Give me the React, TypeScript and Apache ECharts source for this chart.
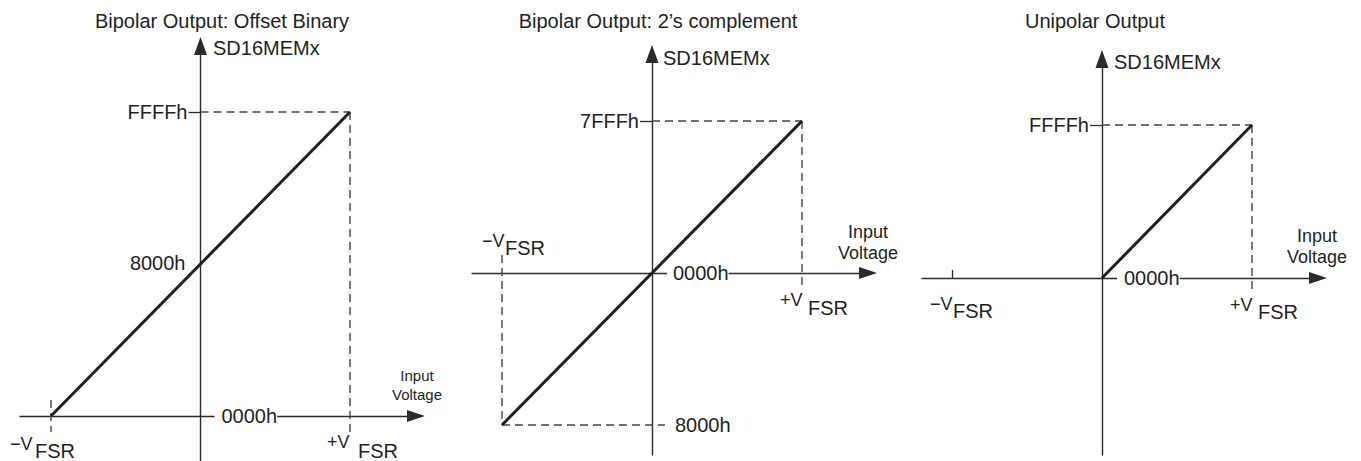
import React, { useEffect, useRef } from "react";
import * as echarts from "echarts";

// ---------------- data ----------------
// Input voltage, in units of the full-scale range V_FSR
const VFSR_NEG = -1;
const VFSR_POS = 1;
const V_ZERO = 0;

// Output codes (SD16MEMx)
const OB_MIN = 0x0000; // 0000h offset binary
const OB_MID = 0x8000; // 8000h offset binary
const OB_MAX = 0xffff; // FFFFh offset binary
const TC_MIN = -0x8000; // 8000h two's complement
const TC_ZERO = 0x0000; // 0000h
const TC_MAX = 0x7fff; // 7FFFh two's complement
const UNI_MIN = 0x0000; // 0000h unipolar
const UNI_MAX = 0xffff; // FFFFh unipolar

const panelTitles = [
  "Bipolar Output: Offset Binary",
  "Bipolar Output: 2\u2019s complement",
  "Unipolar Output",
];
const yAxisTitle = "SD16MEMx";
const xAxisTitle = "Input\nVoltage";

// transfer functions
const offsetBinaryLine = [
  [VFSR_NEG, OB_MIN],
  [VFSR_POS, OB_MAX],
];
const twosComplementLine = [
  [VFSR_NEG, TC_MIN],
  [VFSR_POS, TC_MAX],
];
const unipolarLine = [
  [V_ZERO, UNI_MIN],
  [VFSR_POS, UNI_MAX],
];

// dashed guides: [x1, y1, x2, y2]
const offsetBinaryGuides = [
  [V_ZERO, OB_MAX, VFSR_POS, OB_MAX],
  [VFSR_POS, OB_MAX, VFSR_POS, OB_MIN],
  [VFSR_NEG, OB_MIN, VFSR_NEG, OB_MIN],
];
const twosComplementGuides = [
  [V_ZERO, TC_MAX, VFSR_POS, TC_MAX],
  [VFSR_POS, TC_MAX, VFSR_POS, TC_ZERO],
  [VFSR_NEG, TC_ZERO, VFSR_NEG, TC_MIN],
  [VFSR_NEG, TC_MIN, V_ZERO, TC_MIN],
];
const unipolarGuides = [
  [V_ZERO, UNI_MAX, VFSR_POS, UNI_MAX],
  [VFSR_POS, UNI_MAX, VFSR_POS, UNI_MIN],
];

// annotation anchors and texts
const offsetBinaryLabelAt = [
  [V_ZERO, OB_MAX],
  [V_ZERO, OB_MID],
  [V_ZERO, OB_MIN],
  [VFSR_NEG, OB_MIN],
  [VFSR_NEG, OB_MIN],
  [VFSR_POS, OB_MIN],
  [VFSR_POS, OB_MIN],
];
const offsetBinaryLabelText = ["FFFFh", "8000h", "0000h", "\u2212V", "FSR", "+V", "FSR"];

const twosComplementLabelAt = [
  [V_ZERO, TC_MAX],
  [V_ZERO, TC_ZERO],
  [V_ZERO, TC_MIN],
  [VFSR_NEG, TC_ZERO],
  [VFSR_NEG, TC_ZERO],
  [VFSR_POS, TC_ZERO],
  [VFSR_POS, TC_ZERO],
];
const twosComplementLabelText = ["7FFFh", "0000h", "8000h", "\u2212V", "FSR", "+V", "FSR"];

const unipolarLabelAt = [
  [V_ZERO, UNI_MAX],
  [V_ZERO, UNI_MIN],
  [VFSR_NEG, UNI_MIN],
  [VFSR_NEG, UNI_MIN],
  [VFSR_POS, UNI_MIN],
  [VFSR_POS, UNI_MIN],
];
const unipolarLabelText = ["FFFFh", "0000h", "\u2212V", "FSR", "+V", "FSR"];

const yTickValues = [[OB_MAX], [TC_MAX], [UNI_MAX]];
const xTickValues = [[], [], [VFSR_NEG]];

// ---------------- layout & style ----------------
const FONT = "'Liberation Sans', Arial, Helvetica, sans-serif";
const INK = "#231f20";
const AXIS = "#2b2b2b";
const DASH = "#444444";

// pixel reference mapping: [value1, px1, value2, px2]; box = axis line extents [left, top, right, bottom]
// (arrow heads are centred on the line ends, so their tips sit 9px further out)
const LAYOUT = [
  {
    xRef: [-1, 51, 1, 350],
    yRef: [0, 416, 65535, 112],
    box: [20, 46, 416, 470],
    title: [222, 21],
    yName: { gap: -2, padL: 12.5 },
    xName: { gap: 1, size: 15, lh: 19, padB: 12 },
  },
  {
    xRef: [-1, 502, 1, 802],
    yRef: [-32768, 425, 32767, 121],
    box: [472, 54, 868, 455],
    title: [658, 21],
    yName: { gap: -4, padL: 11 },
    xName: { gap: 0, size: 18, lh: 21, padB: 9.5 },
  },
  {
    xRef: [-1, 952, 1, 1252],
    yRef: [0, 278, 65535, 125],
    box: [922, 59, 1318, 455],
    title: [1095, 21],
    yName: { gap: -3, padL: 12 },
    xName: { gap: -1, size: 18, lh: 21, padB: 10.5 },
  },
];

// pixel extensions of dashed guides [dx1, dy1, dx2, dy2]
const GUIDE_EXT = [
  [
    [0, 0, 0, 0],
    [0, 0, 0, 16],
    [0, -16, 0, 16],
  ],
  [
    [0, 0, 0, 0],
    [0, 0, 0, 17],
    [0, -18, 0, 0],
    [0, 0, 13, 0],
  ],
  [
    [0, 0, 0, 0],
    [0, 0, 0, 15],
  ],
];

type LStyle = { dx: number; dy: number; align: string; size: number; bg?: number };
const LABEL_STYLE: LStyle[][] = [
  [
    { dx: -13, dy: 0, align: "right", size: 20 },
    { dx: -15, dy: -1, align: "right", size: 20 },
    { dx: 14, dy: 0, align: "left", size: 20, bg: 7 },
    { dx: -41, dy: 28, align: "left", size: 18 },
    { dx: -16, dy: 35, align: "left", size: 20 },
    { dx: -23, dy: 26, align: "left", size: 18 },
    { dx: 8, dy: 35, align: "left", size: 20 },
  ],
  [
    { dx: -13, dy: 0, align: "right", size: 20 },
    { dx: 15, dy: 0, align: "left", size: 20, bg: 6 },
    { dx: 23, dy: 0, align: "left", size: 20 },
    { dx: -20, dy: -32, align: "left", size: 18 },
    { dx: 3, dy: -25, align: "left", size: 20 },
    { dx: -22, dy: 27, align: "left", size: 18 },
    { dx: 6, dy: 35, align: "left", size: 20 },
  ],
  [
    { dx: -13, dy: 0, align: "right", size: 20 },
    { dx: 15, dy: 0, align: "left", size: 20, bg: 7 },
    { dx: -22, dy: 26, align: "left", size: 18 },
    { dx: 1, dy: 33, align: "left", size: 20 },
    { dx: -22, dy: 27, align: "left", size: 18 },
    { dx: 6, dy: 34, align: "left", size: 20 },
  ],
];

const PANELS = [
  { title: panelTitles[0], line: offsetBinaryLine, guides: offsetBinaryGuides, labelAt: offsetBinaryLabelAt, labelText: offsetBinaryLabelText },
  { title: panelTitles[1], line: twosComplementLine, guides: twosComplementGuides, labelAt: twosComplementLabelAt, labelText: twosComplementLabelText },
  { title: panelTitles[2], line: unipolarLine, guides: unipolarGuides, labelAt: unipolarLabelAt, labelText: unipolarLabelText },
];

function lin(ref: number[], px: number) {
  const [v1, p1, v2, p2] = ref;
  return v1 + ((px - p1) * (v2 - v1)) / (p2 - p1);
}

export default function App() {
  const ref = useRef<HTMLDivElement>(null);

  useEffect(() => {
    const chart = echarts.init(ref.current!, null, { renderer: "svg" });
    const grid: any[] = [];
    const xAxis: any[] = [];
    const yAxis: any[] = [];
    const series: any[] = [];
    const graphic: any[] = [];

    PANELS.forEach((p, i) => {
      const L = LAYOUT[i];
      const [l, t, r, b] = L.box;
      grid.push({ left: l, top: t, width: r - l, height: b - t, containLabel: false, outerBoundsMode: "none" });

      const xt = xTickValues[i];
      xAxis.push({
        type: "value",
        gridIndex: i,
        min: lin(L.xRef, l),
        max: lin(L.xRef, r),
        axisLine: {
          show: true,
          onZero: true,
          symbol: ["none", "triangle"],
          symbolSize: [12, 18],
          lineStyle: { color: AXIS, width: 1.4 },
        },
        axisTick: xt.length
          ? { show: true, customValues: xt, inside: true, length: 8, lineStyle: { color: AXIS, width: 1.3 } }
          : { show: false },
        axisLabel: { show: false },
        splitLine: { show: false },
        name: xAxisTitle,
        nameLocation: "end",
        nameGap: L.xName.gap,
        nameTextStyle: {
          color: INK,
          fontFamily: FONT,
          fontSize: L.xName.size,
          lineHeight: L.xName.lh,
          align: "center",
          verticalAlign: "bottom",
          padding: [0, 0, L.xName.padB, 0],
        },
      });

      yAxis.push({
        type: "value",
        gridIndex: i,
        min: lin(L.yRef, b),
        max: lin(L.yRef, t),
        axisLine: {
          show: true,
          onZero: true,
          symbol: ["none", "triangle"],
          symbolSize: [13, 18],
          lineStyle: { color: AXIS, width: 1.4 },
        },
        axisTick: {
          show: true,
          customValues: yTickValues[i],
          length: 12,
          lineStyle: { color: AXIS, width: 1.3 },
        },
        axisLabel: { show: false },
        splitLine: { show: false },
        name: yAxisTitle,
        nameLocation: "end",
        nameGap: L.yName.gap,
        nameTextStyle: {
          color: INK,
          fontFamily: FONT,
          fontSize: 20,
          align: "left",
          verticalAlign: "middle",
          padding: [0, 0, 0, L.yName.padL],
        },
      });

      // dashed guides
      series.push({
        type: "custom",
        xAxisIndex: i,
        yAxisIndex: i,
        silent: true,
        z: 1,
        data: p.guides,
        renderItem: (params: any, api: any) => {
          const e = GUIDE_EXT[i][params.dataIndex];
          const a = api.coord([api.value(0), api.value(1)]);
          const c = api.coord([api.value(2), api.value(3)]);
          return {
            type: "line",
            shape: { x1: a[0] + e[0], y1: a[1] + e[1], x2: c[0] + e[2], y2: c[1] + e[3] },
            style: { stroke: DASH, lineWidth: 1.4, lineDash: [8, 5], fill: null },
          };
        },
      });

      // transfer function
      series.push({
        type: "line",
        xAxisIndex: i,
        yAxisIndex: i,
        data: p.line,
        symbol: "none",
        silent: true,
        z: 3,
        lineStyle: { color: INK, width: 3 },
      });

      // labels
      series.push({
        type: "custom",
        xAxisIndex: i,
        yAxisIndex: i,
        silent: true,
        z: 5,
        data: p.labelAt,
        renderItem: (params: any, api: any) => {
          const s = LABEL_STYLE[i][params.dataIndex];
          const c = api.coord([api.value(0), api.value(1)]);
          const style: any = {
            text: p.labelText[params.dataIndex],
            fill: INK,
            fontSize: s.size,
            fontFamily: FONT,
            align: s.align,
            verticalAlign: "middle",
          };
          if (s.bg) {
            style.backgroundColor = "#ffffff";
            style.padding = [1, 0, 1, s.bg];
          }
          return { type: "text", x: c[0] + s.dx, y: c[1] + s.dy, style };
        },
      });

      graphic.push({
        type: "text",
        x: L.title[0],
        y: L.title[1],
        silent: true,
        style: {
          text: p.title,
          fill: INK,
          fontSize: 20,
          fontFamily: FONT,
          align: "center",
          verticalAlign: "middle",
        },
      });
    });

    chart.setOption({
      animation: false,
      backgroundColor: "#ffffff",
      grid,
      xAxis,
      yAxis,
      series,
      graphic,
    });

    return () => chart.dispose();
  }, []);

  return (
    <div
      ref={ref}
      style={{ position: "absolute", left: 0, top: 0, width: 1361, height: 461 }}
    />
  );
}
